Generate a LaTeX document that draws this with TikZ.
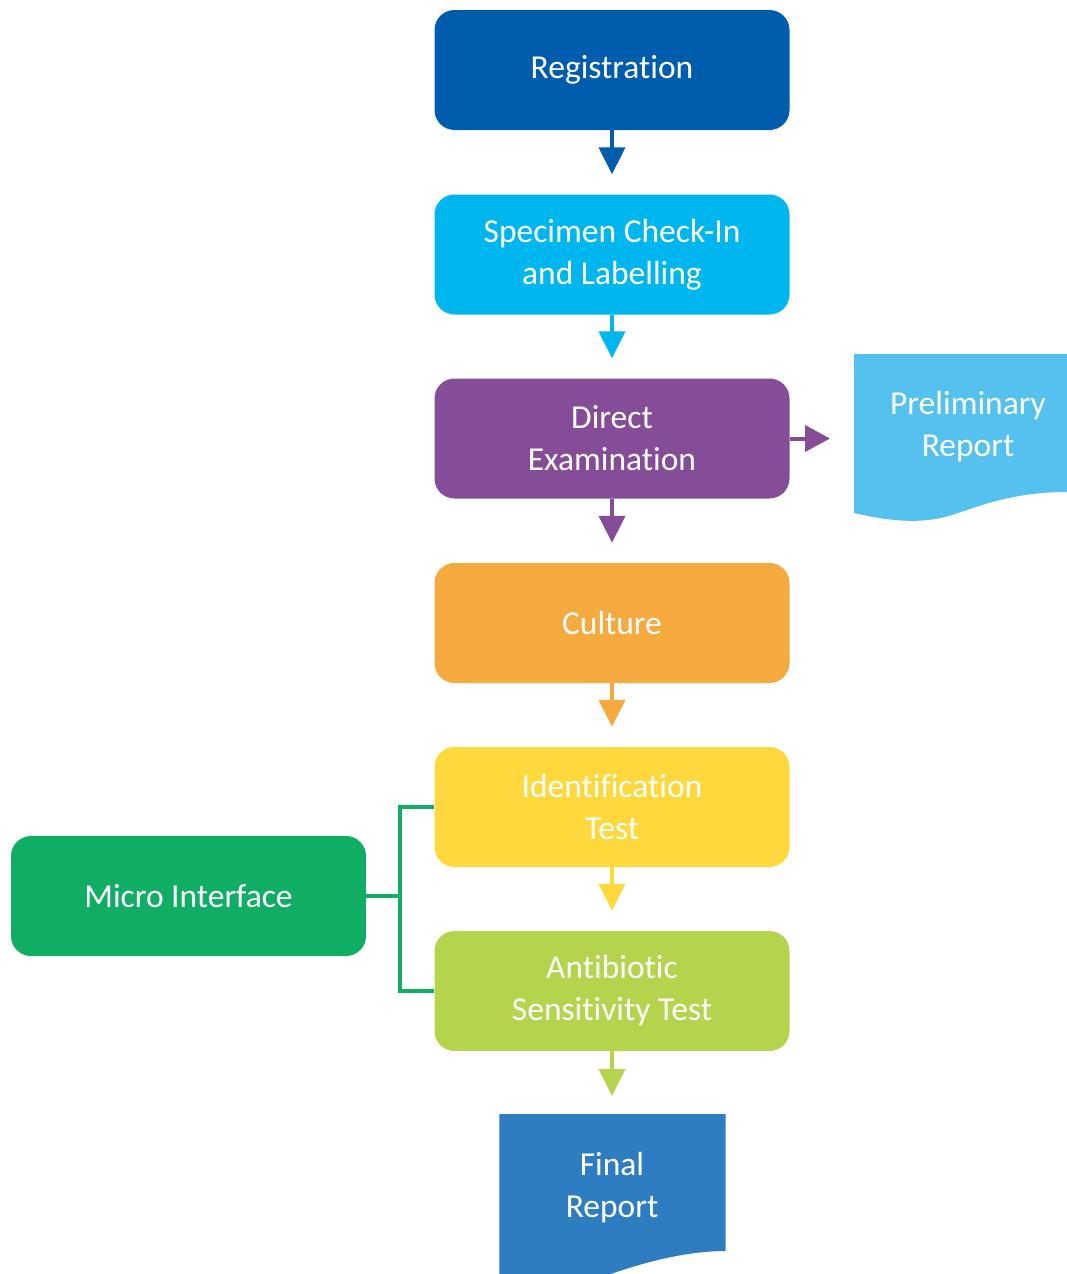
\documentclass[tikz,border=0pt]{standalone}
\usepackage{fontspec}
\setmainfont{Carlito}[Ligatures={NoCommon}]
\usetikzlibrary{arrows.meta}
\definecolor{cReg}{HTML}{005DAD}
\definecolor{cSpec}{HTML}{00B6EE}
\definecolor{cDir}{HTML}{854D98}
\definecolor{cCul}{HTML}{F4AA3E}
\definecolor{cIde}{HTML}{FED83C}
\definecolor{cAnt}{HTML}{B5D44E}
\definecolor{cMic}{HTML}{10AD65}
\definecolor{cPre}{HTML}{54C1EF}
\definecolor{cFin}{HTML}{2F7DC1}
\tikzset{
  stepbox/.style={rounded corners=20pt, minimum width=355pt, minimum height=120pt,
    inner sep=0pt, text=white, align=center, font=\fontsize{33.5}{42}\selectfont},
  arr/.style={line width=4pt, -{Triangle[width=26pt,length=27pt]}},
  doctext/.style={text=white, align=center, font=\fontsize{33.5}{42}\selectfont},
  bus/.style={line width=3.5pt, draw=cMic}
}
\begin{document}
\begin{tikzpicture}[x=1pt,y=-1pt]
\useasboundingbox (0,0) rectangle (1067,1274);
\node[stepbox, fill=cReg] (reg) at (612,70) {Registration};
\node[stepbox, fill=cSpec] (spec) at (612,254.5) {Specimen Check-In\\and Labelling};
\node[stepbox, fill=cDir] (dir) at (612,438.5) {Direct\\Examination};
\node[stepbox, fill=cCul] (cul) at (612,623) {Culture};
\node[stepbox, fill=cIde] (ide) at (612,807) {Identification\\Test};
\node[stepbox, fill=cAnt] (ant) at (612,991) {Antibiotic\\Sensitivity Test};
\node[stepbox, fill=cMic] (mic) at (188.5,896) {Micro Interface};
% preliminary report document
\fill[cPre] (854,354) -- (1067,354) -- (1067,492)
  .. controls (1020,492) and (990,502) .. (955,514)
  .. controls (920,526) and (885,520) .. (854,513) -- cycle;
\node[doctext] (pre) at (968,427) {Preliminary\\Report};
% final report document
\fill[cFin] (499.3,1114) -- (725.7,1114) -- (725.7,1251)
  .. controls (690,1251) and (650,1260) .. (605,1276) -- (499.3,1276) -- cycle;
\node[doctext] (fin) at (612,1188) {Final\\Report};
\coordinate (preIn) at (830,438.5);
\coordinate (finIn) at (612,1096);
% arrows
\draw[arr, cReg] (reg.south) -- ([yshift=20pt]spec.north);
\draw[arr, cSpec] (spec.south) -- ([yshift=20pt]dir.north);
\draw[arr, cDir] (dir.south) -- ([yshift=20pt]cul.north);
\draw[arr, cCul] (cul.south) -- ([yshift=20pt]ide.north);
\draw[arr, cIde] (ide.south) -- ([yshift=20pt]ant.north);
\draw[arr, cAnt] (ant.south) -- (finIn);
\draw[cDir, line width=4pt, -{Triangle[width=26pt,length=25pt]}] (dir.east) -- (preIn);
% micro interface bus
\coordinate (busc) at (400,896);
\draw[bus] (ide.west) -| (busc) |- (ant.west);
\draw[bus] (mic.east) -- (busc);
\end{tikzpicture}
\end{document}
